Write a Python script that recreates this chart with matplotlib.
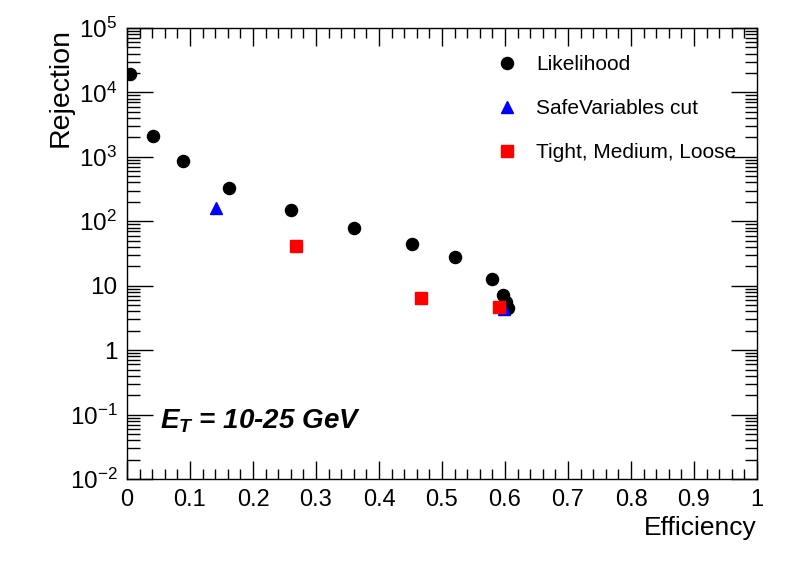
import numpy as np
import matplotlib
matplotlib.use('Agg')
import matplotlib.pyplot as plt
from matplotlib.ticker import LogLocator, MultipleLocator, NullFormatter

plt.rcParams['font.family'] = 'Liberation Sans'
plt.rcParams['mathtext.fontset'] = 'custom'
plt.rcParams['mathtext.rm'] = 'Liberation Sans'
plt.rcParams['mathtext.it'] = 'Liberation Sans:bold:italic'

# values
lh_eff = [0.005, 0.042, 0.089, 0.162, 0.260, 0.361, 0.453, 0.520, 0.580, 0.597, 0.601, 0.605]
lh_rej = [19300, 2080, 850, 325, 148, 78, 45, 27.5, 12.5, 7.3, 5.6, 4.5]
safe_eff = [0.142, 0.598]
safe_rej = [160, 4.4]
cut_eff = [0.268, 0.467, 0.590]
cut_rej = [41.7, 6.5, 4.6]

xtick_labels = ['0', '0.1', '0.2', '0.3', '0.4', '0.5', '0.6', '0.7', '0.8', '0.9', '1']
ytick_vals = [1e-2, 1e-1, 1, 10, 1e2, 1e3, 1e4, 1e5]
ytick_labels = ['$10^{-2}$', '$10^{-1}$', '1', '10', '$10^{2}$', '$10^{3}$', '$10^{4}$', '$10^{5}$']

fig = plt.figure(figsize=(7.96, 5.72), dpi=100)
ax = fig.add_axes([127/796, 1 - 479/572, 630/796, 451/572])

ax.plot(lh_eff, lh_rej, 'o', color='black', ms=8.7, zorder=2, label='Likelihood')
ax.plot(safe_eff, safe_rej, '^', color='blue', ms=8, mec='blue', zorder=3, label='SafeVariables cut')
ax.plot(cut_eff, cut_rej, 's', color='red', ms=8.7, mec='red', zorder=4, label='Tight, Medium, Loose')

ax.set_xlim(0, 1)
ax.set_yscale('log')
ax.set_ylim(1e-2, 1e5)

ax.set_xticks(np.linspace(0, 1, 11))
ax.set_xticklabels(xtick_labels)
ax.xaxis.set_minor_locator(MultipleLocator(0.02))
ax.set_yticks(ytick_vals)
ax.set_yticklabels(ytick_labels)
ax.yaxis.set_minor_locator(LogLocator(base=10, subs=np.arange(2, 10), numticks=20))
ax.yaxis.set_minor_formatter(NullFormatter())

ax.tick_params(which='both', direction='in', top=True, right=True, width=1)
ax.tick_params(axis='x', which='major', length=13, pad=7, labelsize=17)
ax.tick_params(axis='x', which='minor', length=7)
ax.tick_params(axis='y', which='major', length=19, pad=7, labelsize=17.5)
ax.tick_params(axis='y', which='minor', length=9)
for s in ax.spines.values():
    s.set_linewidth(1)

ax.set_xlabel('Efficiency', fontsize=19, loc='right')
ax.set_ylabel('Rejection', fontsize=20.5, loc='top')
ax.xaxis.set_label_coords(1.0, -0.082)
ax.yaxis.set_label_coords(-0.085, 1.0)

ax.text(0.052, 0.127, r'$E_T$ = 10-25 GeV', transform=ax.transAxes, fontsize=20,
        fontweight='bold', style='italic', va='center', ha='left')

ax.legend(loc='upper left', bbox_to_anchor=(0.587, 0.94), frameon=False, fontsize=15,
          borderpad=0, handlelength=1.0, handletextpad=0.88, labelspacing=1.2,
          borderaxespad=0, numpoints=1)

plt.savefig('out.png', dpi=100)
